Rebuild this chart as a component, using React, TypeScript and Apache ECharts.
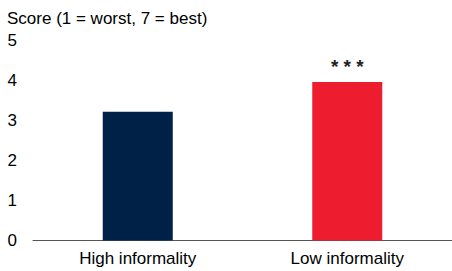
import React, { useEffect, useRef } from "react";
import * as echarts from "echarts";

const categories = ["High informality", "Low informality"];
const values = [3.22, 3.96];
const significance = ["", "* * *"];
const barColors = ["#002147", "#ED1C2E"];
const yTicks = { min: 0, max: 5, interval: 1 };
const yTitle = "Score (1 = worst, 7 = best)";

const FONT = "'Liberation Sans', Arial, sans-serif";

export default function App() {
  const ref = useRef<HTMLDivElement>(null);
  useEffect(() => {
    if (!ref.current) return;
    const chart = echarts.init(ref.current, undefined, { renderer: "svg" });
    chart.setOption({
      animation: false,
      backgroundColor: "#ffffff",
      textStyle: { fontFamily: FONT },
      title: {
        text: yTitle,
        left: 2,
        top: 5,
        textStyle: { fontFamily: FONT, fontSize: 17, fontWeight: "normal", color: "#000" },
      },
      grid: { left: 33, right: 0, top: 40.5, bottom: 30.5, containLabel: false },
      xAxis: {
        type: "category",
        data: categories,
        axisLine: { show: true, lineStyle: { color: "#555", width: 1 } },
        axisTick: { show: false },
        axisLabel: { color: "#000", fontSize: 17, fontFamily: FONT, margin: 9 },
      },
      yAxis: {
        type: "value",
        min: yTicks.min,
        max: yTicks.max,
        interval: yTicks.interval,
        splitLine: { show: false },
        axisLine: { show: false },
        axisTick: { show: false },
        axisLabel: { color: "#000", fontSize: 17, fontFamily: FONT, margin: 16, align: "right" },
      },
      series: [
        {
          type: "bar",
          barWidth: 70,
          data: values.map((v, i) => ({
            value: v,
            itemStyle: { color: barColors[i] },
            label: {
              show: significance[i] !== "",
              formatter: significance[i],
              position: "top",
              distance: 6,
              color: "#222",
              fontSize: 19,
              fontWeight: "bold",
              fontFamily: FONT,
            },
          })),
        },
      ],
    });
    return () => chart.dispose();
  }, []);
  return <div ref={ref} style={{ width: 452, height: 271, position: "absolute", left: 0, top: 0 }} />;
}
